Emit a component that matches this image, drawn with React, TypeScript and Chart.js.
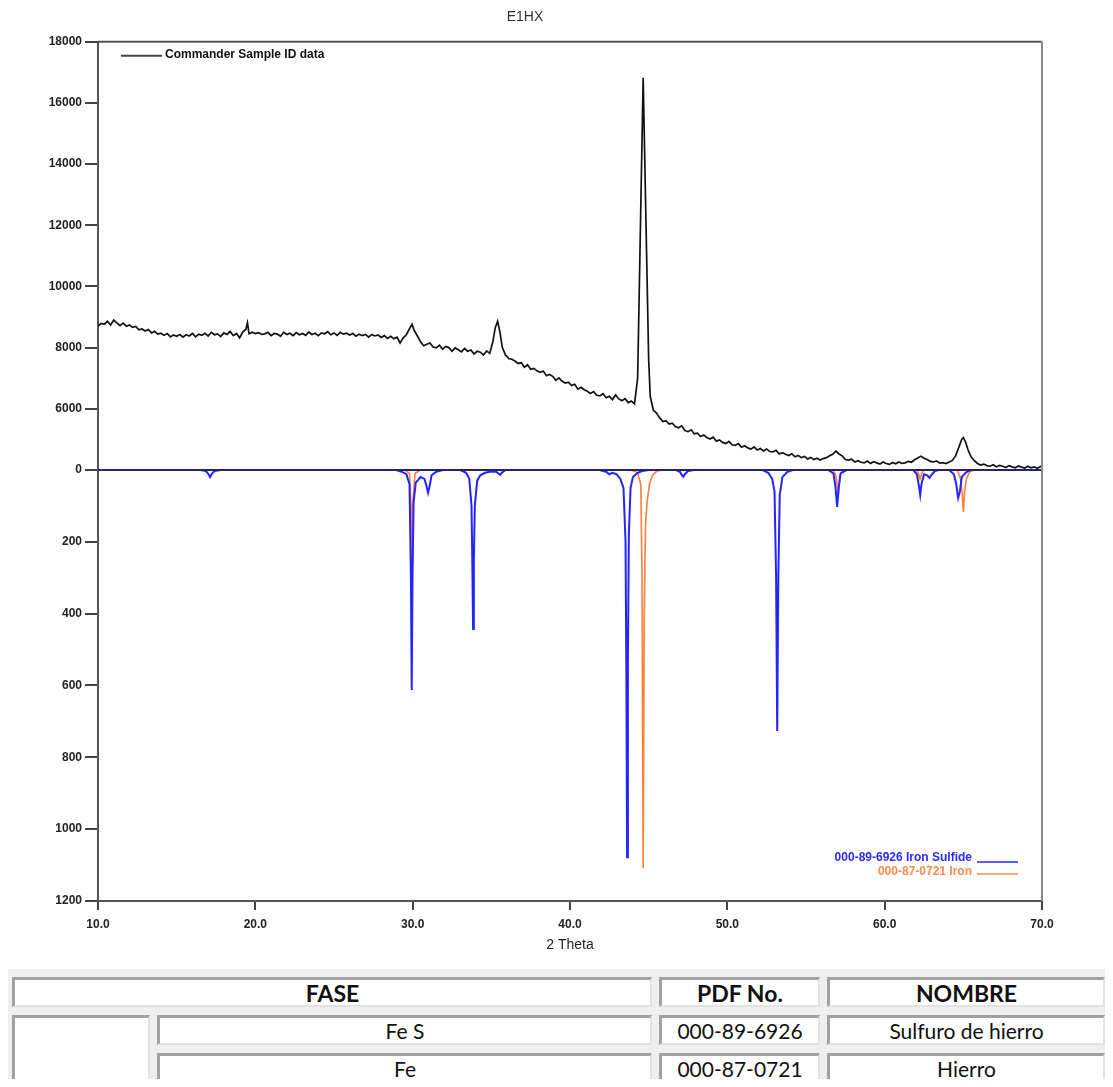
import React, { useEffect, useRef } from 'react';
import { Chart, registerables } from 'chart.js';

Chart.register(...registerables);

const chartTitle = 'E1HX';
const xAxisTitle = '2 Theta';
const xTicks = [10, 20, 30, 40, 50, 60, 70];
const upperTicks = [6000, 8000, 10000, 12000, 14000, 16000, 18000];
const lowerTicks = [0, 200, 400, 600, 800, 1000, 1200];
const sampleLabel = 'Commander Sample ID data';
const sulfideLabel = '000-89-6926 Iron Sulfide';
const ironLabel = '000-87-0721 Iron';

const tableHeader = ['FASE', 'PDF No.', 'NOMBRE'];
const phaseFormulas = ['Fe S', 'Fe'];
const pdfNumbers = ['000-89-6926', '000-87-0721'];
const phaseNames = ['Sulfuro de hierro', 'Hierro'];

// measured sample pattern: [2theta, counts]
const sampleTrace: [number, number][] = [
  [10.0, 8700], [10.2, 8790], [10.4, 8760], [10.6, 8860], [10.8, 8740], [11.0, 8900], [11.2, 8810], [11.4, 8720], [11.6, 8800], [11.8, 8700],
  [12.0, 8740], [12.2, 8660], [12.4, 8690], [12.6, 8580], [12.8, 8610], [13.0, 8540], [13.2, 8590], [13.4, 8480], [13.6, 8530], [13.8, 8440],
  [14.0, 8470], [14.2, 8400], [14.4, 8460], [14.6, 8350], [14.8, 8410], [15.0, 8370], [15.2, 8430], [15.4, 8340], [15.6, 8420], [15.8, 8380],
  [16.0, 8460], [16.2, 8350], [16.4, 8440], [16.6, 8400], [16.8, 8470], [17.0, 8380], [17.2, 8500], [17.4, 8420], [17.6, 8450], [17.8, 8360],
  [18.0, 8480], [18.2, 8430], [18.4, 8530], [18.6, 8390], [18.8, 8460], [19.0, 8320], [19.2, 8510], [19.4, 8600], [19.5, 8810], [19.6, 8450],
  [19.8, 8500], [20.0, 8460], [20.2, 8490], [20.4, 8430], [20.6, 8450], [20.8, 8500], [21.0, 8390], [21.2, 8460], [21.4, 8440], [21.6, 8370],
  [21.8, 8500], [22.0, 8430], [22.2, 8470], [22.4, 8390], [22.6, 8490], [22.8, 8420], [23.0, 8460], [23.2, 8400], [23.4, 8510], [23.6, 8430],
  [23.8, 8470], [24.0, 8390], [24.2, 8480], [24.4, 8450], [24.6, 8520], [24.8, 8420], [25.0, 8480], [25.2, 8400], [25.4, 8500], [25.6, 8440],
  [25.8, 8470], [26.0, 8410], [26.2, 8460], [26.4, 8370], [26.6, 8440], [26.8, 8390], [27.0, 8430], [27.2, 8340], [27.4, 8430], [27.6, 8380],
  [27.8, 8410], [28.0, 8330], [28.2, 8390], [28.4, 8300], [28.6, 8370], [28.8, 8290], [29.0, 8340], [29.2, 8150], [29.4, 8320], [29.6, 8420],
  [29.8, 8620], [29.96, 8760], [30.1, 8560], [30.3, 8380], [30.5, 8190], [30.7, 8060], [30.9, 8110], [31.1, 8150], [31.3, 8020], [31.5, 7990],
  [31.7, 8080], [31.9, 7950], [32.1, 8040], [32.3, 8000], [32.5, 7880], [32.7, 7990], [32.9, 7930], [33.1, 7860], [33.3, 7970], [33.5, 7880],
  [33.7, 7920], [33.9, 7790], [34.1, 7880], [34.3, 7850], [34.5, 7760], [34.7, 7890], [34.9, 7810], [35.1, 8200], [35.25, 8650], [35.4, 8860],
  [35.55, 8500], [35.7, 8000], [35.9, 7760], [36.1, 7640], [36.3, 7620], [36.5, 7560], [36.7, 7480], [36.9, 7510], [37.1, 7360], [37.3, 7440],
  [37.5, 7290], [37.7, 7320], [37.9, 7240], [38.1, 7190], [38.3, 7230], [38.5, 7080], [38.7, 7120], [38.9, 7060], [39.1, 6930], [39.3, 7010],
  [39.5, 6900], [39.7, 6840], [39.9, 6870], [40.1, 6760], [40.3, 6800], [40.5, 6640], [40.7, 6700], [40.9, 6620], [41.1, 6570], [41.3, 6500],
  [41.5, 6560], [41.7, 6440], [41.9, 6420], [42.1, 6490], [42.3, 6360], [42.5, 6410], [42.7, 6300], [42.9, 6450], [43.1, 6320], [43.3, 6260],
  [43.5, 6330], [43.7, 6200], [43.9, 6250], [44.1, 6160], [44.3, 7000], [44.65, 16820], [45.0, 7600], [45.1, 6400], [45.3, 5950], [45.5, 5860],
  [45.7, 5700], [45.9, 5580], [46.1, 5610], [46.3, 5500], [46.5, 5530], [46.7, 5420], [46.9, 5380], [47.1, 5440], [47.3, 5290], [47.5, 5250],
  [47.7, 5310], [47.9, 5180], [48.1, 5200], [48.3, 5090], [48.5, 5140], [48.7, 5060], [48.9, 5010], [49.1, 5070], [49.3, 4940], [49.5, 4980],
  [49.7, 4900], [49.9, 4860], [50.1, 4930], [50.3, 4820], [50.5, 4800], [50.7, 4860], [50.9, 4740], [51.1, 4790], [51.3, 4720], [51.5, 4680],
  [51.7, 4750], [51.9, 4650], [52.1, 4700], [52.3, 4620], [52.5, 4680], [52.7, 4600], [52.9, 4590], [53.1, 4640], [53.3, 4520], [53.5, 4560],
  [53.7, 4510], [53.9, 4470], [54.1, 4530], [54.3, 4430], [54.5, 4470], [54.7, 4400], [54.9, 4440], [55.1, 4360], [55.3, 4410], [55.5, 4340],
  [55.7, 4380], [55.9, 4320], [56.1, 4370], [56.3, 4400], [56.5, 4460], [56.7, 4510], [56.9, 4610], [57.1, 4520], [57.3, 4460], [57.5, 4340],
  [57.7, 4320], [57.9, 4350], [58.1, 4260], [58.3, 4300], [58.5, 4250], [58.7, 4230], [58.9, 4290], [59.1, 4210], [59.3, 4270], [59.5, 4230],
  [59.7, 4190], [59.9, 4260], [60.1, 4210], [60.3, 4180], [60.5, 4240], [60.7, 4200], [60.9, 4260], [61.1, 4210], [61.3, 4230], [61.5, 4280],
  [61.7, 4250], [61.9, 4330], [62.1, 4390], [62.3, 4450], [62.5, 4380], [62.7, 4340], [62.9, 4280], [63.1, 4260], [63.3, 4290], [63.5, 4220],
  [63.7, 4240], [63.9, 4210], [64.1, 4260], [64.3, 4310], [64.5, 4450], [64.7, 4720], [64.9, 5000], [65.0, 5060], [65.15, 4900], [65.3, 4650],
  [65.5, 4420], [65.7, 4300], [65.9, 4210], [66.1, 4160], [66.3, 4190], [66.5, 4140], [66.7, 4120], [66.9, 4170], [67.1, 4100], [67.3, 4150],
  [67.5, 4120], [67.7, 4080], [67.9, 4140], [68.1, 4100], [68.3, 4070], [68.5, 4130], [68.7, 4090], [68.9, 4060], [69.1, 4120], [69.3, 4070],
  [69.5, 4100], [69.7, 4050], [69.9, 4110], [70.0, 4090],
];

// reference pattern 000-89-6926 (Iron Sulfide): [2theta, intensity]
const ironSulfidePattern: [number, number][] = [
  [10.0, 0], [16.5, 0], [16.85, 3], [17.0, 10], [17.12, 20], [17.25, 10], [17.4, 3], [17.8, 0],
  [28.9, 0], [29.3, 5], [29.6, 12], [29.8, 40], [29.89, 300], [29.94, 613], [29.99, 300], [30.06, 90], [30.2, 35], [30.35, 28], [30.5, 20],
  [30.75, 25], [30.88, 45], [30.98, 64], [31.08, 45], [31.2, 15], [31.5, 5], [32.0, 0],
  [33.0, 0], [33.4, 8], [33.6, 25], [33.74, 100], [33.79, 250], [33.84, 443], [33.89, 250], [33.95, 100], [34.1, 30], [34.3, 15], [34.6, 8],
  [34.9, 5], [35.3, 5], [35.45, 10], [35.56, 14], [35.67, 8], [35.9, 0],
  [41.8, 0], [42.3, 5], [42.5, 12], [42.7, 8], [42.95, 12], [43.2, 25], [43.4, 50], [43.53, 200], [43.58, 540], [43.63, 1078], [43.68, 540],
  [43.74, 180], [43.85, 50], [44.0, 20], [44.3, 8], [44.6, 3], [45.0, 0],
  [46.7, 0], [47.0, 6], [47.12, 15], [47.2, 19], [47.3, 12], [47.5, 3], [47.9, 0],
  [52.2, 0], [52.6, 8], [52.85, 25], [53.0, 60], [53.1, 300], [53.17, 727], [53.24, 300], [53.33, 70], [53.5, 20], [53.8, 6], [54.2, 0],
  [56.4, 0], [56.75, 10], [56.88, 50], [56.98, 103], [57.08, 50], [57.2, 10], [57.6, 0],
  [61.8, 0], [62.05, 12], [62.18, 45], [62.26, 70], [62.34, 40], [62.5, 12], [62.7, 15], [62.85, 22], [62.95, 15], [63.2, 3], [63.5, 0],
  [64.1, 0], [64.4, 12], [64.55, 40], [64.67, 78], [64.78, 60], [64.9, 20], [65.1, 10], [65.3, 3], [65.6, 0], [70.0, 0],
];

// reference pattern 000-87-0721 (Iron): [2theta, intensity]
const ironPattern: [number, number][] = [
  [10.0, 0], [29.5, 0], [29.8, 10], [29.9, 100], [29.95, 330], [30.0, 100], [30.15, 10], [30.5, 0],
  [43.8, 0], [44.1, 4], [44.3, 8], [44.5, 40], [44.58, 300], [44.65, 1109], [44.72, 400], [44.8, 150], [44.9, 90], [45.05, 40],
  [45.25, 15], [45.5, 4], [45.9, 0],
  [56.7, 0], [56.9, 15], [57.05, 70], [57.15, 15], [57.35, 0],
  [62.0, 0], [62.15, 10], [62.25, 25], [62.35, 10], [62.5, 0],
  [64.6, 0], [64.8, 20], [64.92, 60], [65.0, 117], [65.08, 60], [65.2, 25], [65.4, 5], [65.7, 0], [70.0, 0],
];

const FONT = "'Liberation Sans', Arial, sans-serif";
const TABLE_FONT = "Lato, 'Open Sans', sans-serif";

const toXY = (arr: [number, number][]) => arr.map(([x, y]) => ({ x, y }));

const decorPlugin = {
  id: 'decor',
  afterDatasetsDraw(chart: any) {
    const { ctx, chartArea: a, scales } = chart;
    ctx.save();
    const y0 = scales.yBottom.getPixelForValue(0);
    ctx.strokeStyle = '#23236e';
    ctx.lineWidth = 2;
    ctx.beginPath();
    ctx.moveTo(a.left, y0);
    ctx.lineTo(a.right, y0);
    ctx.stroke();

    ctx.strokeStyle = '#555';
    ctx.lineWidth = 2;
    ctx.beginPath();
    ctx.moveTo(a.left, a.top);
    ctx.lineTo(a.right, a.top);
    ctx.stroke();
    ctx.strokeStyle = '#8a8a8a';
    ctx.beginPath();
    ctx.moveTo(a.right, a.top);
    ctx.lineTo(a.right, a.bottom);
    ctx.stroke();

    ctx.font = `bold 12px ${FONT}`;
    ctx.textBaseline = 'middle';
    // top-left legend
    ctx.strokeStyle = '#444';
    ctx.lineWidth = 2;
    ctx.beginPath();
    ctx.moveTo(a.left + 23, a.top + 14);
    ctx.lineTo(a.left + 64, a.top + 14);
    ctx.stroke();
    ctx.fillStyle = '#111';
    ctx.textAlign = 'left';
    ctx.fillText(sampleLabel, a.left + 67, a.top + 13);

    // bottom-right legend
    ctx.textAlign = 'right';
    ctx.fillStyle = '#2a2aff';
    ctx.fillText(sulfideLabel, a.right - 70, a.bottom - 43);
    ctx.strokeStyle = '#2a2aff';
    ctx.lineWidth = 1.5;
    ctx.beginPath();
    ctx.moveTo(a.right - 65, a.bottom - 39);
    ctx.lineTo(a.right - 24, a.bottom - 39);
    ctx.stroke();
    ctx.fillStyle = '#ff8a4a';
    ctx.fillText(ironLabel, a.right - 70, a.bottom - 29);
    ctx.strokeStyle = '#ff8a4a';
    ctx.beginPath();
    ctx.moveTo(a.right - 65, a.bottom - 27);
    ctx.lineTo(a.right - 24, a.bottom - 27);
    ctx.stroke();
    ctx.restore();
  },
};

function XrdChart() {
  const ref = useRef<HTMLCanvasElement | null>(null);
  useEffect(() => {
    if (!ref.current) return;
    const tickFont = { family: FONT, size: 12, weight: 'bold' as const };
    const chart = new Chart(ref.current, {
      type: 'line',
      data: {
        datasets: [
          {
            label: sampleLabel,
            data: toXY(sampleTrace),
            yAxisID: 'yTop',
            borderColor: '#111',
            borderWidth: 1.7,
            pointRadius: 0,
          },
          {
            label: sulfideLabel,
            data: toXY(ironSulfidePattern),
            yAxisID: 'yBottom',
            borderColor: '#2424ff',
            borderWidth: 2,
            pointRadius: 0,
          },
          {
            label: ironLabel,
            data: toXY(ironPattern),
            yAxisID: 'yBottom',
            borderColor: '#ff7f3a',
            borderWidth: 1.6,
            pointRadius: 0,
          },
        ],
      },
      options: {
        animation: false,
        responsive: true,
        maintainAspectRatio: false,
        layout: { padding: { left: 0, right: 63, top: 0, bottom: 0 } },
        elements: { line: { tension: 0 }, point: { radius: 0 } },
        plugins: {
          legend: { display: false },
          tooltip: { enabled: false },
          title: {
            display: true,
            text: chartTitle,
            color: '#333',
            font: { family: FONT, size: 14, weight: 'normal' },
            padding: { top: 1, bottom: 16 },
          },
        },
        scales: {
          x: {
            type: 'linear',
            min: 10,
            max: 70,
            afterBuildTicks: (s: any) => {
              s.ticks = xTicks.map((v) => ({ value: v }));
            },
            afterFit: (s: any) => {
              s.height = 57;
            },
            ticks: {
              font: tickFont,
              color: '#222',
              padding: 7,
              maxRotation: 0,
              callback: (v: any) => Number(v).toFixed(1),
            },
            grid: { drawOnChartArea: false, tickLength: 9, color: '#444', lineWidth: 2 },
            border: { color: '#555', width: 2 },
            title: {
              display: true,
              text: xAxisTitle,
              color: '#222',
              font: { family: FONT, size: 14 },
              padding: { top: 0, bottom: 4 },
            },
          },
          yBottom: {
            type: 'linear',
            position: 'left',
            stack: 'y',
            stackWeight: 431,
            min: 0,
            max: 1200,
            reverse: true,
            afterBuildTicks: (s: any) => {
              s.ticks = lowerTicks.map((v) => ({ value: v }));
            },
            afterFit: (s: any) => {
              s.width = 90;
            },
            ticks: { font: tickFont, color: '#222', padding: 3, callback: (v: any) => String(v) },
            grid: { drawOnChartArea: false, tickLength: 13, color: '#444', lineWidth: 2 },
            border: { color: '#555', width: 2 },
          },
          yTop: {
            type: 'linear',
            position: 'left',
            stack: 'y',
            stackWeight: 428,
            min: 4000,
            max: 18000,
            afterBuildTicks: (s: any) => {
              s.ticks = upperTicks.map((v) => ({ value: v }));
            },
            afterFit: (s: any) => {
              s.width = 90;
            },
            ticks: { font: tickFont, color: '#222', padding: 3, callback: (v: any) => String(v) },
            grid: { drawOnChartArea: false, tickLength: 13, color: '#444', lineWidth: 2 },
            border: { color: '#555', width: 2 },
          },
        },
      },
      plugins: [decorPlugin],
    } as any);
    return () => chart.destroy();
  }, []);
  return (
    <div style={{ position: 'relative', width: 1097, height: 950 }}>
      <canvas ref={ref} />
    </div>
  );
}

const cellBase: React.CSSProperties = {
  background: '#fff',
  borderTop: '3px solid #a2a2a2',
  borderLeft: '3px solid #a2a2a2',
  borderRight: '2px solid #e2e2e2',
  borderBottom: '2px solid #e2e2e2',
  padding: 0,
  height: 30,
  boxSizing: 'border-box',
  textAlign: 'center',
  verticalAlign: 'middle',
  fontFamily: TABLE_FONT,
  fontSize: 21,
  lineHeight: '24px',
  color: '#111',
};

function PhaseTable() {
  const head: React.CSSProperties = { ...cellBase, fontWeight: 'bold', fontSize: 23 };
  return (
    <table
      style={{
        borderCollapse: 'separate',
        borderSpacing: '7px 8px',
        background: '#efefef',
        tableLayout: 'fixed',
        width: 1107,
        marginLeft: -3,
        marginTop: 11,
      }}
    >
      <colgroup>
        <col style={{ width: 138 }} />
        <col style={{ width: 495 }} />
        <col style={{ width: 161 }} />
        <col style={{ width: 278 }} />
      </colgroup>
      <tbody>
        <tr>
          <th colSpan={2} style={head}>{tableHeader[0]}</th>
          <th style={head}>{tableHeader[1]}</th>
          <th style={head}>{tableHeader[2]}</th>
        </tr>
        {phaseFormulas.map((f, i) => (
          <tr key={f}>
            {i === 0 && <td rowSpan={2} style={cellBase}></td>}
            <td style={cellBase}>{f}</td>
            <td style={cellBase}>{pdfNumbers[i]}</td>
            <td style={cellBase}>{phaseNames[i]}</td>
          </tr>
        ))}
      </tbody>
    </table>
  );
}

export default function App() {
  return (
    <div style={{ width: 1105, height: 1079, marginBottom: -8, overflow: 'hidden', position: 'relative' }}>
      <XrdChart />
      <PhaseTable />
    </div>
  );
}
